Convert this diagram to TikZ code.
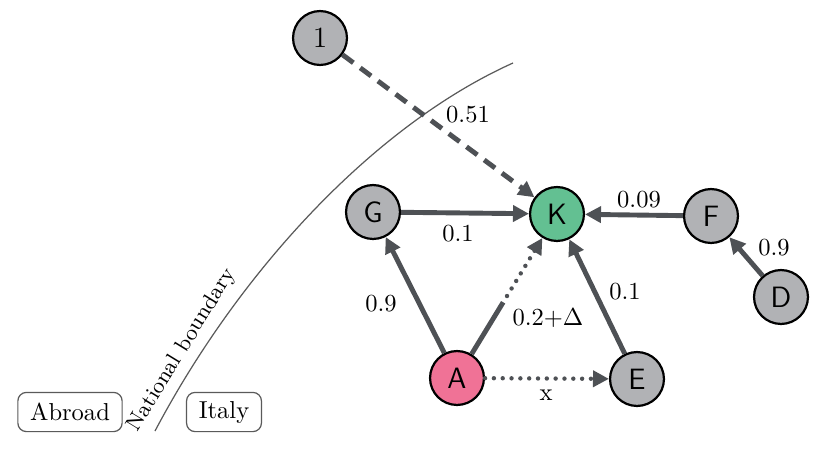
\documentclass[tikz,border=0pt]{standalone}
\usetikzlibrary{arrows.meta,calc}
\definecolor{edgec}{RGB}{78,81,85}
\definecolor{nodegray}{RGB}{177,178,181}
\definecolor{kgreen}{RGB}{99,192,146}
\definecolor{apink}{RGB}{240,114,150}
\definecolor{boundc}{RGB}{90,90,90}
\tikzset{
  vert/.style={circle,draw=black,line width=0.9pt,fill=nodegray,minimum size=22pt,inner sep=0pt,font=\sffamily\large},
  tip/.style={-{Triangle[length=6.5pt,width=6.5pt]}},
  edge/.style={draw=edgec,line width=2pt,tip},
  plain/.style={draw=edgec,line width=2pt},
  dotline/.style={draw=edgec,line width=1.8pt,dash pattern=on 0pt off 3.6pt,line cap=round},
  dashline/.style={draw=edgec,line width=2pt,dash pattern=on 5.5pt off 3.5pt},
  lab/.style={font=\normalsize,inner sep=1pt},
  region/.style={draw=boundc,rounded corners=3.5pt,line width=0.5pt,minimum height=16pt,inner xsep=5pt,inner ysep=3pt}
}
\begin{document}
\begin{tikzpicture}[x=0.408pt,y=-0.408pt]
\useasboundingbox (0,0) rectangle (830,458);
% boundary
\draw[boundc,line width=0.5pt] (155,431) .. controls (240,270) and (375,125) .. (513,63);
\node[rotate=58.5,font=\small,inner sep=1pt] (nb) at (182,350) {National boundary};
\node[region] (abroad) at (70,412) {Abroad};
\node[region] (italy) at (224,412) {Italy};
% nodes
\node[vert] (one) at (320,38) {$1$};
\node[vert,fill=kgreen] (K) at (557,214) {K};
\node[vert] (G) at (373,212) {G};
\node[vert] (F) at (711,216) {F};
\node[vert] (D) at (781,297) {D};
\node[vert,fill=apink] (A) at (457,378) {A};
\node[vert] (E) at (637,379) {E};
\coordinate (m) at ($(A)!0.5!(K)$);
% edges
\draw[dashline,tip] (one) -- (K);
\draw[edge] (G) -- (K);
\draw[edge] (F) -- (K);
\draw[edge] (D) -- (F);
\draw[edge] (A) -- (G);
\draw[edge] (E) -- (K);
\draw[plain,shorten >=3pt] (A) -- (m);
\draw[dotline,tip] (m) -- (K);
\draw[dotline,tip] (A) -- (E);
% labels
\node[lab] (l1) at (468,115) {0.51};
\node[lab] (l2) at (458,234) {0.1};
\node[lab] (l3) at (639,200) {0.09};
\node[lab] (l4) at (774,248) {0.9};
\node[lab] (l5) at (381,304) {0.9};
\node[lab] (l6) at (548,318) {$0.2{+}\Delta$};
\node[lab] (l7) at (625,292) {0.1};
\node[lab] (l8) at (546,395) {x};
\end{tikzpicture}
\end{document}
